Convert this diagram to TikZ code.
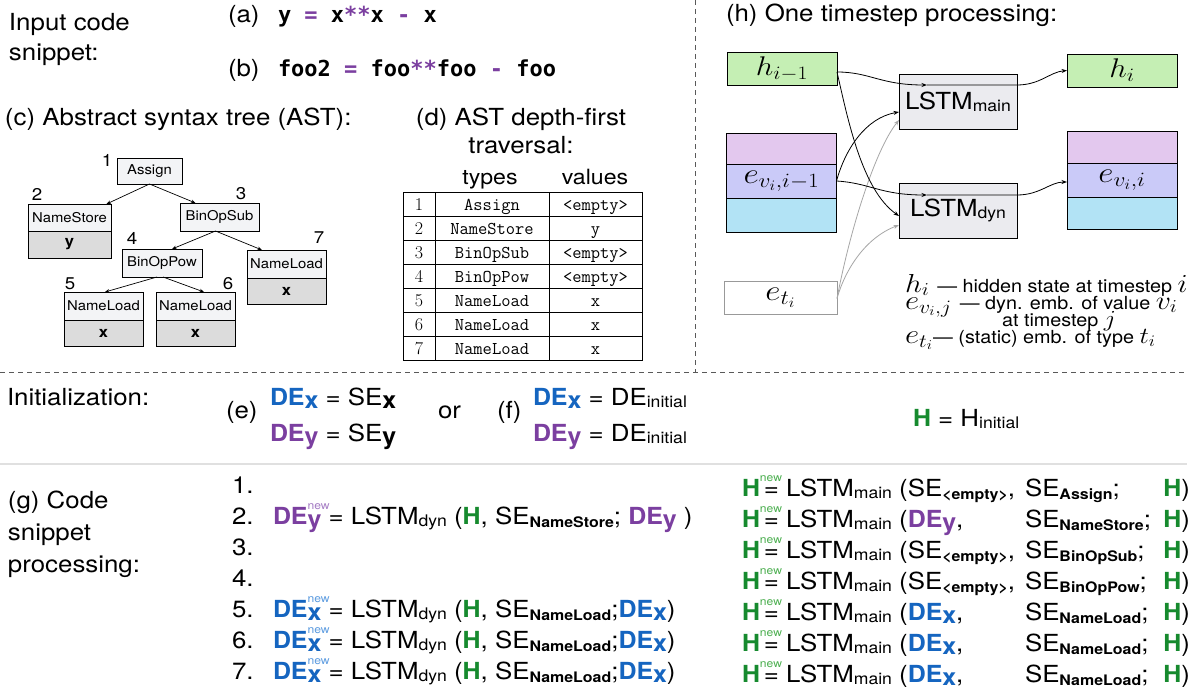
\RequirePackage{fix-cm}
\documentclass[tikz,border=0pt]{standalone}
\usepackage{graphicx}
\usepackage{fontspec}
\setsansfont{TeX Gyre Heros}[FakeStretch=1.1]
\newfontfamily\hbf{TeX Gyre Heros}[FakeStretch=1.06]
\newfontfamily\codefont{DejaVu Sans Mono}
\usetikzlibrary{arrows.meta}
\definecolor{cblue}{HTML}{1565C0}
\definecolor{cpurple}{HTML}{7B3FA0}
\definecolor{cgreen}{HTML}{168A2E}
\definecolor{lblue}{HTML}{5B9BE0}
\definecolor{lpurple}{HTML}{A57CC4}
\definecolor{lgreen}{HTML}{4CAF50}
\definecolor{hgreen}{HTML}{C5EFB4}
\definecolor{epink}{HTML}{E3C8EE}
\definecolor{elav}{HTML}{CACAF8}
\definecolor{eblue}{HTML}{B2E3F5}
\definecolor{boxgray}{HTML}{EBEBEF}
\definecolor{astlight}{HTML}{F3F4F6}
\definecolor{astdark}{HTML}{DCDCDC}
\newcommand\fs[1]{\fontsize{#1}{#1}\selectfont}
\newcommand\mth[1]{\scalebox{1.15}[1]{$#1$}}
\newcommand\lsub[1]{\raisebox{-2pt}{\fs{16}#1}}
\newcommand\bsub[1]{\raisebox{-3.5pt}{\fs{14.5}\bfseries #1}}
\newcommand\xb[1]{\raisebox{-3pt}{\hbf\bfseries #1}}
\newcommand\newsup[1]{\rlap{\raisebox{15pt}{\fs{11}\sffamily\mdseries\color{#1}new}}}
\newcommand\DEX{{\color{cblue}\hbf\bfseries DE\xb{x}}}
\newcommand\DEY{{\color{cpurple}\hbf\bfseries DE\xb{y}}}
\newcommand\DEXn{{\color{cblue}\hbf\bfseries DE\newsup{lblue}\xb{x}}}
\newcommand\DEYn{{\color{cpurple}\hbf\bfseries DE\newsup{lpurple}\xb{y}}}
\newcommand\Hb{{\color{cgreen}\hbf\bfseries H}}
\newcommand\Hn{{\color{cgreen}\hbf\bfseries H\newsup{lgreen}}}
\tikzset{
  every node/.style={inner sep=0pt, outer sep=0pt, font=\sffamily\fs{23.5}},
  txt/.style={anchor=base west},
  astbox/.style={draw, line width=0.8pt, fill=astlight, font=\sffamily\fs{13.5}},
  astval/.style={draw, line width=0.8pt, fill=astdark, font=\sffamily\bfseries\fs{15}},
  astnum/.style={font=\sffamily\fs{17}},
  tarr/.style={-{Stealth[length=4.5pt,width=3.5pt]}, line width=0.7pt},
  arr/.style={-{Stealth[length=5.5pt,width=4pt]}, line width=0.8pt},
  garr/.style={arr, draw=black!35},
  sep/.style={dash pattern=on 5pt off 4pt, line width=0.9pt, draw=black!65},
  hstate/.style={draw, line width=0.9pt, fill=hgreen, minimum width=110pt, minimum height=33pt, font=\fs{27}},
  lstm/.style={draw, line width=0.9pt, fill=boxgray, minimum width=118pt, minimum height=55pt, font=\sffamily\fs{23.5}},
  emb/.style={draw, line width=0.9pt, minimum width=110pt, font=\fs{29}},
  tcell/.style={anchor=base, font=\ttfamily\fs{18}},
  tnum/.style={anchor=base, font=\rmfamily\fs{18}},
  lgd/.style={anchor=base west, font=\sffamily\fs{18}}
}
\begin{document}
\begin{tikzpicture}[x=1pt,y=-1pt]
\useasboundingbox (0,0) rectangle (1204,693);
\fill[white] (0,0) rectangle (1204,693);

% ---------- (a)/(b) ----------
\node[txt] (inp1) at (9,31) {Input code};
\node[txt] (inp2) at (9,61) {snippet:};
\node[txt] (la) at (228,23) {(a)};
\node[txt, font=\codefont\bfseries\fs{22}] (ca) at (278,23) {y \textcolor{cpurple}{=} x\textcolor{cpurple}{**}x \textcolor{cpurple}{-} x};
\node[txt] (lb) at (228,77) {(b)};
\node[txt, font=\codefont\bfseries\fs{22}] (cb) at (278,77) {foo2 \textcolor{cpurple}{=} foo\textcolor{cpurple}{**}foo \textcolor{cpurple}{-} foo};

% ---------- (c) AST ----------
\node[txt] (ctitle) at (5,125) {(c) Abstract syntax tree (AST):};
\node[astbox, minimum width=65pt, minimum height=26pt] (asg) at (149.5,171) {Assign};
\node[astbox, minimum width=83pt, minimum height=27pt] (ns) at (69.5,217.5) {NameStore};
\node[astval, minimum width=83pt, minimum height=27pt] (nsv) at (69.5,244.5) {y};
\node[astbox, minimum width=79pt, minimum height=28pt] (bsub) at (219.5,217) {BinOpSub};
\node[astbox, minimum width=80pt, minimum height=28pt] (bpow) at (162,263) {BinOpPow};
\node[astbox, minimum width=79pt, minimum height=28pt] (nl7) at (286.5,264) {NameLoad};
\node[astval, minimum width=79pt, minimum height=26pt] (nl7v) at (286.5,291) {x};
\node[astbox, minimum width=79pt, minimum height=28pt] (nl5) at (103.5,306) {NameLoad};
\node[astval, minimum width=79pt, minimum height=26pt] (nl5v) at (103.5,333) {x};
\node[astbox, minimum width=79pt, minimum height=28pt] (nl6) at (195.5,306) {NameLoad};
\node[astval, minimum width=79pt, minimum height=26pt] (nl6v) at (195.5,333) {x};
\node[astnum] (n1) at (107,160) {1};
\node[astnum] (n2) at (37,194) {2};
\node[astnum] (n3) at (241,194) {3};
\node[astnum] (n4) at (132,238) {4};
\node[astnum] (n7) at (319,238) {7};
\node[astnum] (n5) at (70,284) {5};
\node[astnum] (n6) at (228,284) {6};
\draw[tarr] (asg.south) -- ([xshift=37pt]ns.north);
\draw[tarr] (asg.south) -- ([xshift=-24pt]bsub.north);
\draw[tarr] ([xshift=-4pt]bsub.south) -- ([xshift=10pt]bpow.north);
\draw[tarr] ([xshift=-4pt]bsub.south) -- ([xshift=-24.5pt]nl7.north);
\draw[tarr] ([xshift=-5pt]bpow.south) -- ([xshift=1.5pt]nl5.north);
\draw[tarr] ([xshift=1pt]bpow.south) -- ([xshift=8.5pt]nl6.north);

% ---------- (d) table ----------
\node[anchor=base] (dt1) at (521,125) {(d) AST depth-first};
\node[anchor=base] (dt2) at (521,153) {traversal:};
\node[anchor=base, font=\sffamily\fs{21}] (thT) at (490,184) {types};
\node[anchor=base, font=\sffamily\fs{21}] (thV) at (595,184) {values};
\draw[line width=0.9pt] (403,192) rectangle (642,360);
\foreach \k in {1,...,6} \draw[line width=0.9pt] (403,192+24*\k) -- (642,192+24*\k);
\draw[line width=0.9pt] (435,192) -- (435,360);
\draw[line width=0.9pt] (549,192) -- (549,360);
\foreach \i/\ty/\va in {1/Assign/<empty>, 2/NameStore/y, 3/BinOpSub/<empty>, 4/BinOpPow/<empty>, 5/NameLoad/x, 6/NameLoad/x, 7/NameLoad/x}{
  \node[tnum] (tn\i) at (419,186+24*\i) {\i};
  \node[tcell] (tt\i) at (492,186+24*\i) {\ty};
  \node[tcell] (tv\i) at (595.5,186+24*\i) {\va};
}

% ---------- (h) ----------
\node[txt] (htitle) at (726,22) {(h) One timestep processing:};
\node[hstate] (hprev) at (782,68.5) {\mth{h_{i-1}}};
\node[hstate] (hi) at (1122,70.5) {\mth{h_i}};
\node[lstm] (lmain) at (958,101.5) {LSTM\lsub{main}};
\node[lstm] (ldyn) at (958,210.5) {LSTM\lsub{dyn}};
\node[emb, fill=epink, minimum height=31pt] (evt) at (781.5,148.5) {};
\node[emb, fill=elav, minimum height=34pt] (evm) at (781.5,181) {\mth{e_{v_i,i-1}}};
\node[emb, fill=eblue, minimum height=34pt] (evb) at (781.5,215) {};
\node[emb, fill=epink, minimum height=32pt] (eit) at (1122,147) {};
\node[emb, fill=elav, minimum height=34pt] (eim) at (1122,180) {\mth{e_{v_i,i}}};
\node[emb, fill=eblue, minimum height=32pt] (eib) at (1122,213) {};
\node[emb, draw=black!40, fill=white, minimum width=113pt, minimum height=33pt] (eti) at (780.5,297.5) {\mth{e_{t_i}}};
\coordinate (mIn) at (927,85);
\coordinate (mOut) at (1017,85);
\coordinate (dIn) at (927,195);
\coordinate (dOut) at (1017,195);
\draw[garr] ([yshift=-1pt]eti.east) .. controls (850,230) and (875,150) .. ([yshift=-18.5pt]lmain.west);
\draw[garr] ([yshift=-1pt]eti.east) .. controls (845,270) and (865,238) .. ([yshift=-14.5pt]ldyn.west);
\draw[arr] ([yshift=-3.5pt]hprev.east) .. controls (870,72) and (880,85) .. (mIn);
\draw[arr] (mIn) -- (mOut) .. controls (1040,85) and (1050,72) .. (hi.west);
\draw[arr] ([yshift=-3.5pt]hprev.east) .. controls (848,120) and (862,190) .. ([yshift=-5.5pt]ldyn.west);
\draw[arr] (evm.east) .. controls (845,150) and (865,118) .. ([yshift=-10.5pt]lmain.west);
\draw[arr] (evm.east) .. controls (870,183) and (880,195) .. (dIn);
\draw[arr] (dIn) -- (dOut) .. controls (1040,195) and (1050,182) .. ([yshift=-2pt]eim.west);
\node[lgd] (lg1) at (905,292) {\fs{26}\mth{h_i}\ \fs{18}--- hidden state at timestep \fs{26}\mth{i}};
\node[lgd] (lg2) at (905,309) {\fs{27}\mth{e_{v_i,j}}\ \fs{18}--- dyn. emb. of value \fs{26}\mth{v_i}};
\node[lgd] (lg3) at (1002,326) {at timestep \fs{23}\mth{j}};
\node[lgd] (lg4) at (905,343) {\fs{27}\mth{e_{t_i}}\fs{18}--- (static) emb. of type \fs{23}\mth{t_i}};

% ---------- separators ----------
\draw[sep] (695,0) -- (695,372);
\draw[sep] (0,372) -- (1187,372);
\draw[line width=1.5pt, draw=black!12] (0,464) -- (1187,464);

% ---------- Initialization ----------
\node[txt] (init) at (7,405) {Initialization:};
\node[txt] (le) at (226,418) {(e)};
\node[txt] (e1) at (270,405) {\DEX\ = SE\xb{x}};
\node[txt] (e2) at (270,441) {\DEY\ = SE\xb{y}};
\node[txt] (or) at (438,418) {or};
\node[txt] (lf) at (497,418) {(f)};
\node[txt] (f1) at (533,405) {\DEX\ = DE\lsub{initial}};
\node[txt] (f2) at (533,441) {\DEY\ = DE\lsub{initial}};
\node[txt] (hinit) at (913,426) {\Hb\ = H\lsub{initial}};

% ---------- (g) ----------
\node[txt] (gt1) at (8,508) {(g) Code};
\node[txt] (gt2) at (8,540) {snippet};
\node[txt] (gt3) at (8,572) {processing:};
\foreach \k/\yy in {1/493,2/524,3/555,4/586,5/617,6/648,7/679}
  \node[txt] (gn\k) at (232,\yy) {\k.};
\node[txt] (gl2) at (273,524) {\DEYn\ = LSTM\lsub{dyn} (\Hb, SE\bsub{NameStore}; \DEY\ )};
\node[txt] (gl5) at (273,617) {\DEXn\ = LSTM\lsub{dyn} (\Hb, SE\bsub{NameLoad};\DEX)};
\node[txt] (gl6) at (273,648) {\DEXn\ = LSTM\lsub{dyn} (\Hb, SE\bsub{NameLoad};\DEX)};
\node[txt] (gl7) at (273,679) {\DEXn\ = LSTM\lsub{dyn} (\Hb, SE\bsub{NameLoad};\DEX)};

\node[txt] (ra1) at (742,496) {\Hn\,= LSTM\lsub{main} (SE\bsub{<empty>},};
\node[txt] (rb1) at (1025,496) {SE\bsub{Assign};};
\node[anchor=base east] (rc1) at (1190,496) {\Hb)};
\node[txt] (ra2) at (742,527) {\Hn\,= LSTM\lsub{main} (\DEY,};
\node[txt] (rb2) at (1025,527) {SE\bsub{NameStore};};
\node[anchor=base east] (rc2) at (1190,527) {\Hb)};
\node[txt] (ra3) at (742,558) {\Hn\,= LSTM\lsub{main} (SE\bsub{<empty>},};
\node[txt] (rb3) at (1025,558) {SE\bsub{BinOpSub};};
\node[anchor=base east] (rc3) at (1190,558) {\Hb)};
\node[txt] (ra4) at (742,589) {\Hn\,= LSTM\lsub{main} (SE\bsub{<empty>},};
\node[txt] (rb4) at (1025,589) {SE\bsub{BinOpPow};};
\node[anchor=base east] (rc4) at (1190,589) {\Hb)};
\node[txt] (ra5) at (742,620) {\Hn\,= LSTM\lsub{main} (\DEX,};
\node[txt] (rb5) at (1025,620) {SE\bsub{NameLoad};};
\node[anchor=base east] (rc5) at (1190,620) {\Hb)};
\node[txt] (ra6) at (742,651) {\Hn\,= LSTM\lsub{main} (\DEX,};
\node[txt] (rb6) at (1025,651) {SE\bsub{NameLoad};};
\node[anchor=base east] (rc6) at (1190,651) {\Hb)};
\node[txt] (ra7) at (742,682) {\Hn\,= LSTM\lsub{main} (\DEX,};
\node[txt] (rb7) at (1025,682) {SE\bsub{NameLoad};};
\node[anchor=base east] (rc7) at (1190,682) {\Hb)};
\end{tikzpicture}
\end{document}
